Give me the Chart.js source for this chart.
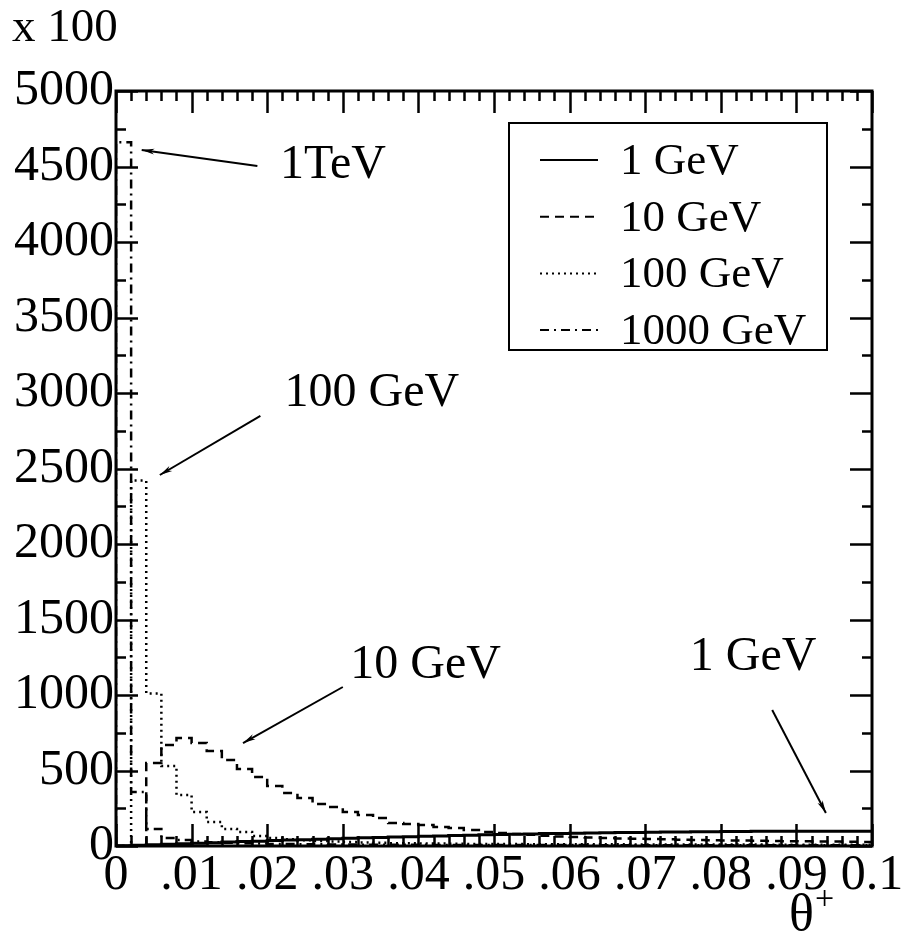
<!DOCTYPE html>
<html lang="en">
<head>
    <meta charset="UTF-8">
    <title>theta+ distribution</title>
    <script src="https://cdn.jsdelivr.net/npm/chart.js"></script>
    <style>
        html, body { margin: 0; padding: 0; background: #fff; }
        canvas { display: block; }
    </style>
</head>
<body>
    <canvas id="thetaChart" width="904" height="938"></canvas>

    <script>
        // bins are 0.002 wide, 50 bins from 0 to 0.1 (values in units of x 100)
        const binWidth = 0.002;
        const oneGeV = [2, 5, 8, 12, 15, 19, 22, 26, 29, 32, 36, 39, 42, 45, 48, 51, 54, 57, 60, 62,
                        65, 67, 70, 72, 74, 76, 78, 80, 82, 83, 85, 86, 88, 89, 90, 91, 92, 93, 94, 95,
                        96, 96, 97, 97, 98, 98, 98, 98, 98, 98];
        const tenGeV = [0, 0, 550, 669, 715, 682, 629, 570, 510, 457, 397, 351, 318, 278, 258, 225, 205, 185, 152, 145,
                        139, 126, 119, 106, 93, 86, 80, 74, 68, 63, 60, 56, 53, 50, 48, 46, 44, 42, 40, 38,
                        37, 36, 34, 33, 32, 31, 30, 29, 28, 27];
        const hundredGeV = [0, 2420, 1010, 530, 338, 225, 159, 113, 93, 66, 53, 45, 38, 33, 29, 26, 23, 21, 19, 18,
                            17, 16, 15, 14, 14, 13, 13, 12, 12, 12, 11, 11, 11, 11, 10, 10, 10, 10, 10, 10,
                            10, 10, 10, 9, 9, 9, 9, 9, 9, 9];
        const thousandGeV = [4660, 358, 113, 53, 40, 30, 25, 21, 18, 16, 14, 13, 12, 11, 10, 10, 9, 9, 8, 8,
                             8, 7, 7, 7, 7, 6, 6, 6, 6, 6, 6, 5, 5, 5, 5, 5, 5, 5, 5, 5,
                             5, 5, 5, 5, 5, 5, 5, 5, 5, 5];

        const seriesLabels = ['1 GeV', '10 GeV', '100 GeV', '1000 GeV'];
        const xTickLabels = ['0', '.01', '.02', '.03', '.04', '.05', '.06', '.07', '.08', '.09', '0.1'];
        const yTickLabels = ['0', '500', '1000', '1500', '2000', '2500', '3000', '3500', '4000', '4500', '5000'];

        // arrow annotations, in data coordinates
        const notes = [
            { text: '1TeV',    tx: 0.0217, ty: 4510, from: [0.0187, 4503], to: [0.0034, 4610] },
            { text: '100 GeV', tx: 0.0223, ty: 3000, from: [0.0191, 2848], to: [0.0058, 2457] },
            { text: '10 GeV',  tx: 0.0310, ty: 1199, from: [0.0300, 1053], to: [0.0168, 682] },
            { text: '1 GeV',   tx: 0.0759, ty: 1252, from: [0.0868, 901],  to: [0.0939, 219] }
        ];

        const FONT = "'Liberation Serif', 'Times New Roman', serif";
        const FS = 45;
        const TICK_FS = 50;

        function histPoints(vals) {
            const pts = [{ x: 0, y: 0 }];
            vals.forEach((v, k) => pts.push({ x: k * binWidth, y: v }));
            pts.push({ x: vals.length * binWidth, y: vals[vals.length - 1] });
            return pts;
        }

        const styles = [
            { dash: [] },
            { dash: [9, 6] },
            { dash: [2, 4] },
            { dash: [9, 5, 2, 5] }
        ];
        const allSeries = [oneGeV, tenGeV, hundredGeV, thousandGeV];

        const frameAndTicks = {
            id: 'frameAndTicks',
            afterDraw(chart) {
                const ctx = chart.ctx;
                const x = chart.scales.x, y = chart.scales.y;
                const L = chart.chartArea.left, R = chart.chartArea.right;
                const T = chart.chartArea.top, B = chart.chartArea.bottom;
                ctx.save();
                ctx.strokeStyle = '#000';
                ctx.fillStyle = '#000';
                ctx.lineWidth = 3;
                ctx.setLineDash([]);
                ctx.strokeRect(L, T, R - L, B - T);

                // x ticks, top and bottom, pointing inside
                ctx.lineWidth = 2.5;
                for (let i = 0; i <= 50; i++) {
                    const px = Math.round(x.getPixelForValue(i * 0.002)) + 0.5;
                    const len = (i % 5 === 0) ? 22 : 10;
                    ctx.beginPath();
                    ctx.moveTo(px, B); ctx.lineTo(px, B - len);
                    ctx.moveTo(px, T); ctx.lineTo(px, T + len);
                    ctx.stroke();
                }
                // y ticks, left and right
                for (let i = 0; i <= 20; i++) {
                    const py = Math.round(y.getPixelForValue(i * 250)) + 0.5;
                    const len = (i % 2 === 0) ? 22 : 10;
                    ctx.beginPath();
                    ctx.moveTo(L, py); ctx.lineTo(L + len, py);
                    ctx.moveTo(R, py); ctx.lineTo(R - len, py);
                    ctx.stroke();
                }

                // legend box
                const bx = 509, by = 123, bw = 318, bh = 227;
                ctx.lineWidth = 2;
                ctx.strokeRect(bx, by, bw, bh);
                ctx.font = FS + 'px ' + FONT;
                ctx.textBaseline = 'middle';
                ctx.textAlign = 'left';
                chart.data.datasets.forEach((ds, i) => {
                    const ry = 160 + i * 56.7;
                    ctx.lineWidth = 2;
                    ctx.setLineDash(ds.borderDash || []);
                    ctx.beginPath();
                    ctx.moveTo(540, ry); ctx.lineTo(598, ry);
                    ctx.stroke();
                    ctx.setLineDash([]);
                    ctx.fillText(ds.label, 620, ry + 2);
                });

                // annotations with arrows
                ctx.font = '48px ' + FONT;
                ctx.lineWidth = 2;
                notes.forEach(n => {
                    ctx.fillText(n.text, x.getPixelForValue(n.tx), y.getPixelForValue(n.ty));
                    const x1 = x.getPixelForValue(n.from[0]), y1 = y.getPixelForValue(n.from[1]);
                    const x2 = x.getPixelForValue(n.to[0]), y2 = y.getPixelForValue(n.to[1]);
                    ctx.beginPath();
                    ctx.moveTo(x1, y1); ctx.lineTo(x2, y2);
                    ctx.stroke();
                    const a = Math.atan2(y2 - y1, x2 - x1);
                    const hl = 13, hw = 0.22;
                    ctx.beginPath();
                    ctx.moveTo(x2, y2);
                    ctx.lineTo(x2 - hl * Math.cos(a - hw), y2 - hl * Math.sin(a - hw));
                    ctx.lineTo(x2 - hl * 0.7 * Math.cos(a), y2 - hl * 0.7 * Math.sin(a));
                    ctx.lineTo(x2 - hl * Math.cos(a + hw), y2 - hl * Math.sin(a + hw));
                    ctx.closePath();
                    ctx.fill();
                });

                // axis titles
                ctx.textAlign = 'left';
                ctx.font = '47px ' + FONT;
                ctx.fillText('x 100', 12, 29);
                ctx.font = '52px ' + FONT;
                ctx.fillText('\u03b8', 789, 916);
                ctx.font = '34px ' + FONT;
                ctx.fillText('+', 815, 900);
                ctx.restore();
            }
        };

        new Chart(document.getElementById('thetaChart'), {
            type: 'line',
            data: {
                datasets: allSeries.map((vals, i) => ({
                    label: seriesLabels[i],
                    data: histPoints(vals),
                    borderColor: '#000',
                    borderWidth: i === 0 ? 3 : 2.5,
                    borderDash: styles[i].dash,
                    stepped: 'before',
                    pointRadius: 0,
                    fill: false
                }))
            },
            options: {
                responsive: false,
                animation: false,
                layout: { padding: { top: 91, right: 32, left: 0, bottom: 0 } },
                plugins: { legend: { display: false }, tooltip: { enabled: false } },
                scales: {
                    x: {
                        type: 'linear',
                        min: 0,
                        max: 0.1,
                        grid: { display: false, drawTicks: false },
                        border: { display: false },
                        afterBuildTicks: s => { s.ticks = xTickLabels.map((t, i) => ({ value: i * 0.01 })); },
                        afterFit: s => { s.height = 92; },
                        ticks: {
                            color: '#000',
                            font: { family: FONT, size: TICK_FS },
                            padding: 0,
                            maxRotation: 0,
                            autoSkip: false,
                            callback: (v, i) => xTickLabels[i]
                        }
                    },
                    y: {
                        min: 0,
                        max: 5000,
                        grid: { display: false, drawTicks: false },
                        border: { display: false },
                        afterBuildTicks: s => { s.ticks = yTickLabels.map((t, i) => ({ value: i * 500 })); },
                        afterFit: s => { s.width = 116; },
                        ticks: {
                            color: '#000',
                            font: { family: FONT, size: TICK_FS },
                            padding: 2,
                            autoSkip: false,
                            callback: (v, i) => yTickLabels[i]
                        }
                    }
                }
            },
            plugins: [frameAndTicks]
        });
    </script>
</body>
</html>
